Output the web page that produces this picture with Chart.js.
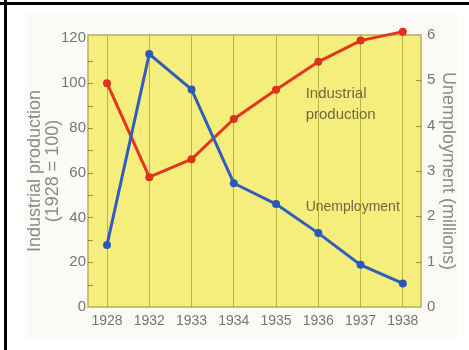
<!DOCTYPE html>
<html>
<head>
    <meta charset="utf-8" />
    <title>Industrial production and unemployment 1928-1938</title>
    <script src="https://cdn.jsdelivr.net/npm/chart.js"></script>
    <style>
        html, body { margin: 0; padding: 0; background: #ffffff; }
        #wrap { position: relative; width: 469px; height: 350px; overflow: hidden; }
        .topline { position: absolute; left: 0; top: 2px; width: 469px; height: 3px; background: #000; }
        .leftline { position: absolute; left: 4px; top: 0; width: 3px; height: 350px; background: #000; }
        .photo { position: absolute; left: 25px; top: 13px; width: 432px; height: 327px; background: #fbfaf4; }
        #chart { position: absolute; left: 0; top: 0; }
    </style>
</head>
<body>
<div id="wrap">
    <div class="photo"></div>
    <div class="topline"></div>
    <div class="leftline"></div>
    <canvas id="chart" width="469" height="350"></canvas>
</div>
<script>
    // values
    var years = ['1928', '1932', '1933', '1934', '1935', '1936', '1937', '1938'];
    var production = [100, 58, 66, 84, 97, 109.5, 119, 123];      // index, 1928 = 100
    var unemployment = [1.37, 5.58, 4.8, 2.73, 2.27, 1.63, 0.93, 0.52]; // millions
    var leftTicks = [0, 20, 40, 60, 80, 100, 120];
    var rightTicks = [0, 1, 2, 3, 4, 5, 6];

    var font = '"Liberation Sans", Arial, sans-serif';
    var grey = '#767676';
    var olive = 'rgba(150, 138, 40, 0.6)';

    function points(values) {
        return values.map(function (v, i) { return { x: i, y: v }; });
    }

    // yellow plot area, inner tick dashes and the two line labels
    var plotDecor = {
        id: 'plotDecor',
        beforeDraw: function (chart) {
            var a = chart.chartArea, ctx = chart.ctx;
            ctx.save();
            ctx.fillStyle = '#f6ee7c';
            ctx.fillRect(a.left, a.top, a.right - a.left, a.bottom - a.top);
            ctx.strokeStyle = '#b9ae5c';
            ctx.lineWidth = 1.5;
            ctx.strokeRect(a.left, a.top, a.right - a.left, a.bottom - a.top);
            ctx.restore();
        },
        afterDatasetsDraw: function (chart) {
            var a = chart.chartArea, ctx = chart.ctx;
            var yl = chart.scales.y, yr = chart.scales.y1, x = chart.scales.x;
            ctx.save();
            ctx.strokeStyle = 'rgba(120, 110, 40, 0.7)';
            ctx.lineWidth = 1;
            for (var v = 10; v < 120; v += 10) {
                var py = Math.round(yl.getPixelForValue(v)) + 0.5;
                ctx.beginPath(); ctx.moveTo(a.left, py); ctx.lineTo(a.left + 5, py); ctx.stroke();
            }
            for (var w = 1; w < 6; w++) {
                var qy = Math.round(yr.getPixelForValue(w)) + 0.5;
                ctx.beginPath(); ctx.moveTo(a.right - 5, qy); ctx.lineTo(a.right, qy); ctx.stroke();
            }
            ctx.fillStyle = '#6f6a3c';
            ctx.textAlign = 'left';
            ctx.textBaseline = 'alphabetic';
            ctx.font = '15px ' + font;
            var lx = x.getPixelForValue(4.7);
            ctx.fillText('Industrial', lx, yl.getPixelForValue(93.5));
            ctx.fillText('production', lx, yl.getPixelForValue(84));
            ctx.font = '14px ' + font;
            ctx.fillText('Unemployment', lx, yl.getPixelForValue(43));
            ctx.restore();
        }
    };

    var ctx = document.getElementById('chart').getContext('2d');
    var chart = new Chart(ctx, {
        type: 'line',
        data: {
            datasets: [{
                label: 'Unemployment',
                data: points(unemployment),
                yAxisID: 'y1',
                borderColor: '#2f5fbd',
                backgroundColor: '#2b59b8',
                borderWidth: 3,
                pointRadius: 4,
                pointBorderWidth: 0,
                clip: false,
                order: 0
            }, {
                label: 'Industrial production',
                data: points(production),
                yAxisID: 'y',
                borderColor: '#e2371f',
                backgroundColor: '#e0301c',
                borderWidth: 3,
                pointRadius: 4,
                pointBorderWidth: 0,
                clip: false,
                order: 1
            }]
        },
        options: {
            responsive: false,
            animation: false,
            layout: { padding: { left: 22, right: 8, top: 35, bottom: 0 } },
            plugins: { legend: { display: false }, tooltip: { enabled: false } },
            scales: {
                x: {
                    type: 'linear',
                    min: -0.45,
                    max: 7.43,
                    afterFit: function (s) { s.height = 43; },
                    afterBuildTicks: function (s) {
                        s.ticks = years.map(function (_, i) { return { value: i }; });
                    },
                    ticks: {
                        callback: function (v) { return years[v]; },
                        color: grey,
                        font: { family: font, size: 14 },
                        padding: 6,
                        maxRotation: 0,
                        autoSkip: false
                    },
                    grid: { color: olive, lineWidth: 1, drawTicks: false },
                    border: { display: false }
                },
                y: {
                    position: 'left',
                    min: 0,
                    max: 121.5,
                    afterFit: function (s) { s.width = 66; },
                    afterBuildTicks: function (s) {
                        s.ticks = leftTicks.map(function (v) { return { value: v }; });
                    },
                    ticks: { color: grey, font: { family: font, size: 15 }, padding: 2 },
                    grid: { display: false, drawTicks: false },
                    border: { display: false },
                    title: {
                        display: true,
                        text: ['Industrial production', '(1928 = 100)'],
                        color: '#8a8a8a',
                        font: { family: font, size: 18, lineHeight: 1.0 },
                        padding: { top: 4, bottom: 4 }
                    }
                },
                y1: {
                    position: 'right',
                    min: 0,
                    max: 6,
                    afterFit: function (s) { s.width = 40; },
                    afterBuildTicks: function (s) {
                        s.ticks = rightTicks.map(function (v) { return { value: v }; });
                    },
                    ticks: { color: grey, font: { family: font, size: 15 }, padding: 6 },
                    grid: { display: false, drawTicks: false },
                    border: { display: false },
                    title: {
                        display: true,
                        text: 'Unemployment (millions)',
                        color: '#8a8a8a',
                        font: { family: font, size: 18, lineHeight: 1.0 },
                        padding: { top: 4, bottom: 4 }
                    }
                }
            }
        },
        plugins: [plotDecor]
    });
</script>
</body>
</html>
